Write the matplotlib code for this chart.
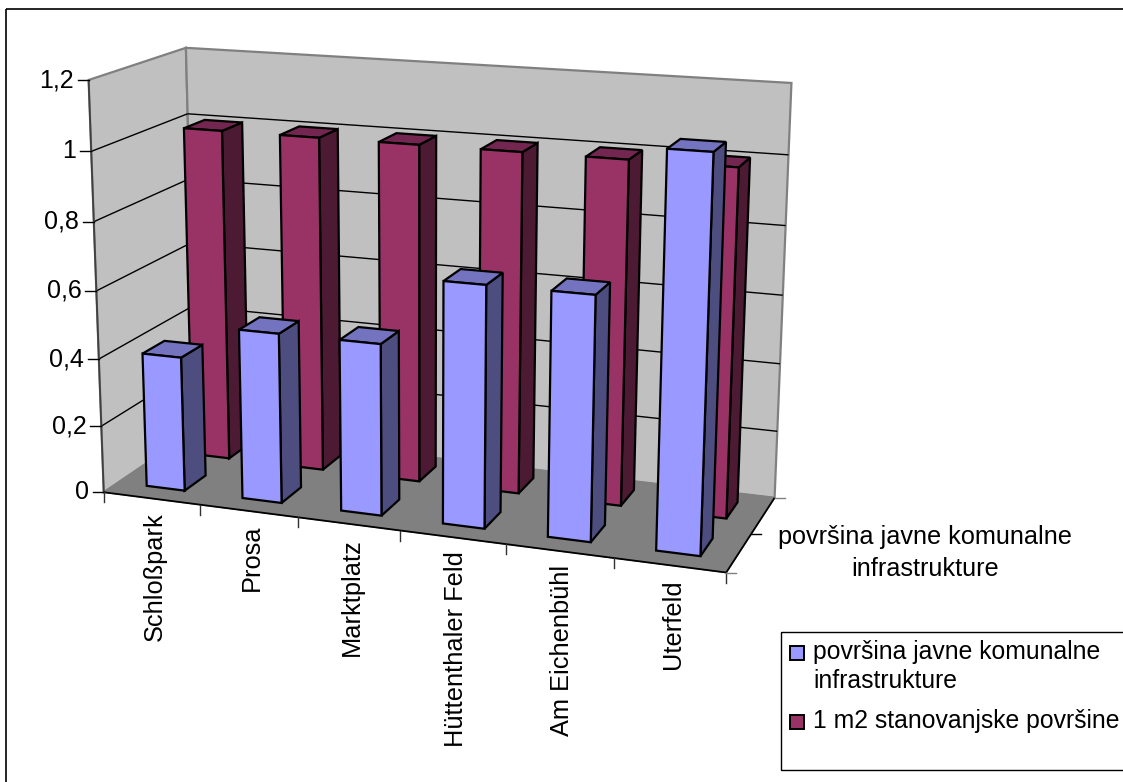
import numpy as np
import matplotlib
matplotlib.use('Agg')
import matplotlib.pyplot as plt
from matplotlib.patches import Polygon, Rectangle

plt.rcParams['font.family'] = ['Liberation Sans', 'DejaVu Sans']

categories = ['Schloßpark', 'Prosa', 'Marktplatz', 'Hüttenthaler Feld', 'Am Eichenbühl', 'Uterfeld']
infrastruktura = [0.40, 0.50, 0.50, 0.695, 0.695, 1.10]
stanovanje = [1.0, 1.0, 1.0, 1.0, 1.0, 1.0]
z_ticks = [0, 0.2, 0.4, 0.6, 0.8, 1, 1.2]
z_labels = ['0', '0,2', '0,4', '0,6', '0,8', '1', '1,2']
series_names = ['površina javne komunalne\ninfrastrukture', '1 m2 stanovanjske površine']

# known points of the chart box: (category, depth, value) -> pixel
box_world = np.array([
    [0, 0, 0], [6, 0, 0], [6, 1, 0], [0, 1, 0], [0, 0, 1.2], [0, 1, 1.2], [6, 1, 1.2], [6, 0, 1.2],
    [1, 0, 0], [2, 0, 0], [0, 1, 1], [0, 0, 1], [0, 0, 0.8], [0, 0, 0.4], [0, 0, 0.2], [6, 1, 1],
], dtype=float)
box_pixel = np.array([
    [104, 492], [727, 572], [774, 497], [195, 430], [88, 80], [186, 49], [793, 82], [741, 122],
    [200, 505], [298, 520], [188, 113], [91, 151], [94, 222], [99, 358], [102, 425], [788, 156],
], dtype=float)


def fit_camera(world, pixel):
    rows, rhs = [], []
    for (x, y, z), (u, v) in zip(world, pixel):
        rows.append([x, y, z, 1, 0, 0, 0, 0, -u * x, -u * y, -u * z])
        rows.append([0, 0, 0, 0, x, y, z, 1, -v * x, -v * y, -v * z])
        rhs += [u, v]
    m = np.linalg.lstsq(np.array(rows), np.array(rhs), rcond=None)[0]
    return np.append(m, 1).reshape(3, 4)


CAM = fit_camera(box_world, box_pixel)


def proj(x, y, z):
    p = CAM @ np.array([x, y, z, 1.0])
    return p[0] / p[2], p[1] / p[2]


def poly(ax, pts, face, edge='black', lw=1.6, zorder=3):
    ax.add_patch(Polygon([proj(*p) for p in pts], closed=True, facecolor=face,
                         edgecolor=edge, linewidth=lw, joinstyle='miter', zorder=zorder))


def line3(ax, a, b, color='black', lw=1.0, zorder=2):
    pa, pb = proj(*a), proj(*b)
    ax.plot([pa[0], pb[0]], [pa[1], pb[1]], color=color, lw=lw, solid_capstyle='butt', zorder=zorder)


def bar3(ax, i, val, d0, d1, front, side, top, zorder):
    x0, x1 = i + 0.3, i + 0.7
    poly(ax, [(x1, d0, 0), (x1, d1, 0), (x1, d1, val), (x1, d0, val)], side, zorder=zorder)
    poly(ax, [(x0, d0, val), (x1, d0, val), (x1, d1, val), (x0, d1, val)], top, zorder=zorder)
    poly(ax, [(x0, d0, 0), (x1, d0, 0), (x1, d0, val), (x0, d0, val)], front, zorder=zorder)


fig = plt.figure(figsize=(11.23, 7.82), dpi=100)
ax = fig.add_axes([0, 0, 1, 1])
ax.set_xlim(0, 1123)
ax.set_ylim(782, 0)
ax.axis('off')

# outer frame, runs off the right and bottom edges
ax.add_patch(Rectangle((6, 9), 1140, 790, fill=False, edgecolor='black', lw=1.2))

# walls and floor
wall = '#C0C0C0'
poly(ax, [(0, 0, 0), (0, 1, 0), (0, 1, 1.2), (0, 0, 1.2)], wall, edge='#808080', lw=1.6, zorder=1)
poly(ax, [(0, 1, 0), (6, 1, 0), (6, 1, 1.2), (0, 1, 1.2)], wall, edge='#808080', lw=1.6, zorder=1)
poly(ax, [(0, 0, 0), (6, 0, 0), (6, 1, 0), (0, 1, 0)], '#808080', edge='#808080', lw=1, zorder=1.5)

# gridlines
for z in z_ticks[1:-1]:
    line3(ax, (0, 0, z), (0, 1, z))
    line3(ax, (0, 1, z), (6, 1, z))

# axes and ticks
line3(ax, (0, 0, 0), (0, 0, 1.2), color='#404040', lw=1.3)
line3(ax, (0, 0, 0), (6, 0, 0), lw=1.3)
line3(ax, (6, 0, 0), (6, 1, 0), lw=1.3)
for z, lab in zip(z_ticks, z_labels):
    px, py = proj(0, 0, z)
    ax.plot([px - 11, px], [py, py], color='black', lw=1.0)
    ax.text(px - 15, py, lab, ha='right', va='center', fontsize=18, color='black')
for i in range(len(categories) + 1):
    px, py = proj(i, 0, 0)
    ax.plot([px, px], [py, py + 10], color='#303030', lw=1.0)
for d, c in zip([0, 0.5, 1], ['#808080', 'black', '#808080']):
    px, py = proj(6, d, 0)
    ax.plot([px, px + 10], [py, py], color=c, lw=1.0)

# back row first, then front row
for i, v in enumerate(stanovanje):
    bar3(ax, i, v, 0.65, 0.88, '#993366', '#4D1A33', '#732650', 3 + i * 0.1)
for i, v in enumerate(infrastruktura):
    bar3(ax, i, v, 0.15, 0.38, '#9999FF', '#4D4D80', '#7373BF', 4 + i * 0.1)

# category labels
for i, name in enumerate(categories):
    px, py = proj(i + 0.5, 0, 0)
    ax.text(px + 10, py + 14, name, rotation=90, ha='right', va='baseline',
            rotation_mode='anchor', fontsize=18.3, color='black')

ax.text(925, 553, series_names[0], ha='center', va='center',
        fontsize=18.2, color='black', linespacing=1.4)

# legend
ax.add_patch(Rectangle((781, 632), 360, 138, fill=False, edgecolor='black', lw=1.0))
ax.add_patch(Rectangle((790, 646), 14, 14, facecolor='#9999FF', edgecolor='black', lw=1.4))
ax.add_patch(Rectangle((790, 715), 14, 14, facecolor='#993366', edgecolor='black', lw=1.4))
ax.text(813, 652, series_names[0].split('\n')[0], va='center', fontsize=17.8)
ax.text(813, 681, series_names[0].split('\n')[1], va='center', fontsize=17.8)
ax.text(813, 721, series_names[1], va='center', fontsize=17.8)

fig.savefig('out.png', dpi=100)
